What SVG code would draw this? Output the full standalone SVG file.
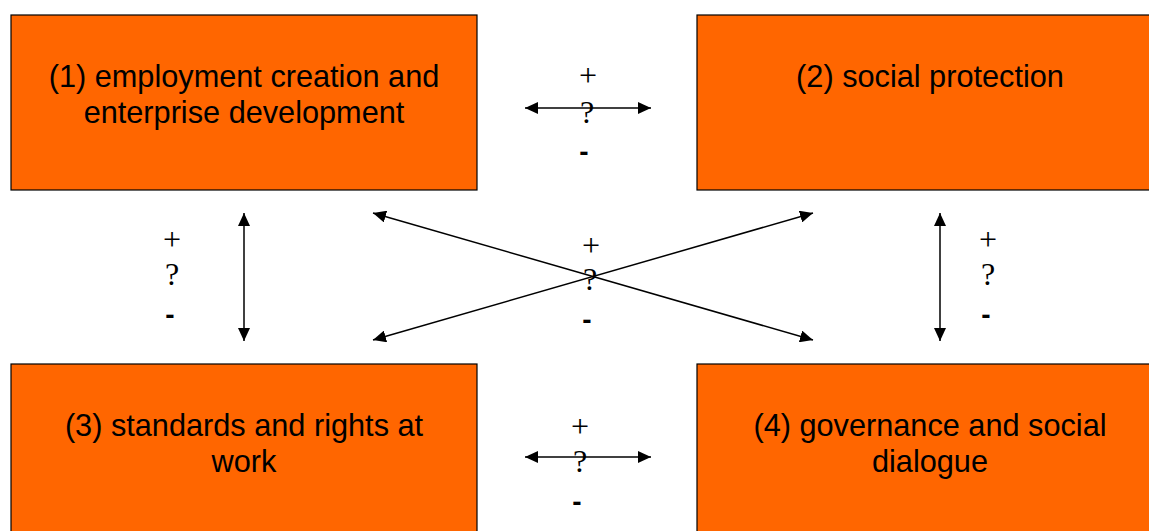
<svg xmlns="http://www.w3.org/2000/svg" width="1149" height="531" viewBox="0 0 1149 531">
  <style>
    .box { fill: #FF6600; stroke: #000; stroke-width: 1.2; }
    .lbl { font-family: "Liberation Sans", Arial, sans-serif; font-size: 30.7px; fill: #000; text-anchor: middle; }
    .conn { stroke: #000; stroke-width: 1.5; fill: none; marker-start: url(#ah); marker-end: url(#ah); }
    .sign { font-family: "Liberation Serif", "Times New Roman", serif; font-size: 32px; fill: #000; text-anchor: middle; }
    .minus { font-family: "Liberation Sans", Arial, sans-serif; font-size: 28px; font-weight: bold; fill: #000; text-anchor: middle; }
  </style>
  <defs>
    <marker id="ah" viewBox="0 0 10 10" refX="10" refY="5" markerWidth="13" markerHeight="12" markerUnits="userSpaceOnUse" orient="auto-start-reverse" preserveAspectRatio="none">
      <path d="M0,0 L10,5 L0,10 Z" fill="#000"/>
    </marker>
  </defs>
  <rect width="1149" height="531" fill="#fff"/>

  <g id="node1">
    <rect class="box" x="11" y="15" width="466" height="175"/>
    <text class="lbl" x="244" y="87">(1) employment creation and</text>
    <text class="lbl" x="244" y="123">enterprise development</text>
  </g>
  <g id="node2">
    <rect class="box" x="697" y="15" width="460" height="175"/>
    <text class="lbl" x="930" y="87">(2) social protection</text>
  </g>
  <g id="node3">
    <rect class="box" x="11" y="364" width="466" height="175"/>
    <text class="lbl" x="244" y="436">(3) standards and rights at</text>
    <text class="lbl" x="244" y="472">work</text>
  </g>
  <g id="node4">
    <rect class="box" x="697" y="364" width="460" height="175"/>
    <text class="lbl" x="930" y="436">(4) governance and social</text>
    <text class="lbl" x="930" y="472">dialogue</text>
  </g>

  <g id="connectors">
    <line class="conn" x1="525" y1="108" x2="651" y2="108"/>
    <line class="conn" x1="525" y1="457" x2="651" y2="457"/>
    <line class="conn" x1="244" y1="213" x2="244" y2="341"/>
    <line class="conn" x1="940" y1="213" x2="940" y2="341"/>
    <line class="conn" x1="373" y1="213" x2="813" y2="340"/>
    <line class="conn" x1="813" y1="213" x2="373" y2="340"/>
  </g>

  <g id="signs">
    <text class="sign" x="588" y="86">+</text>
    <text class="sign" x="587" y="123">?</text>
    <text class="minus" x="584" y="161">-</text>

    <text class="sign" x="172" y="250">+</text>
    <text class="sign" x="172" y="285">?</text>
    <text class="minus" x="170" y="324">-</text>

    <text class="sign" x="988" y="250">+</text>
    <text class="sign" x="988" y="285">?</text>
    <text class="minus" x="986" y="324">-</text>

    <text class="sign" x="591" y="256">+</text>
    <text class="sign" x="590" y="290">?</text>
    <text class="minus" x="587" y="329">-</text>

    <text class="sign" x="580" y="437">+</text>
    <text class="sign" x="580" y="472">?</text>
    <text class="minus" x="577" y="511">-</text>
  </g>
</svg>
